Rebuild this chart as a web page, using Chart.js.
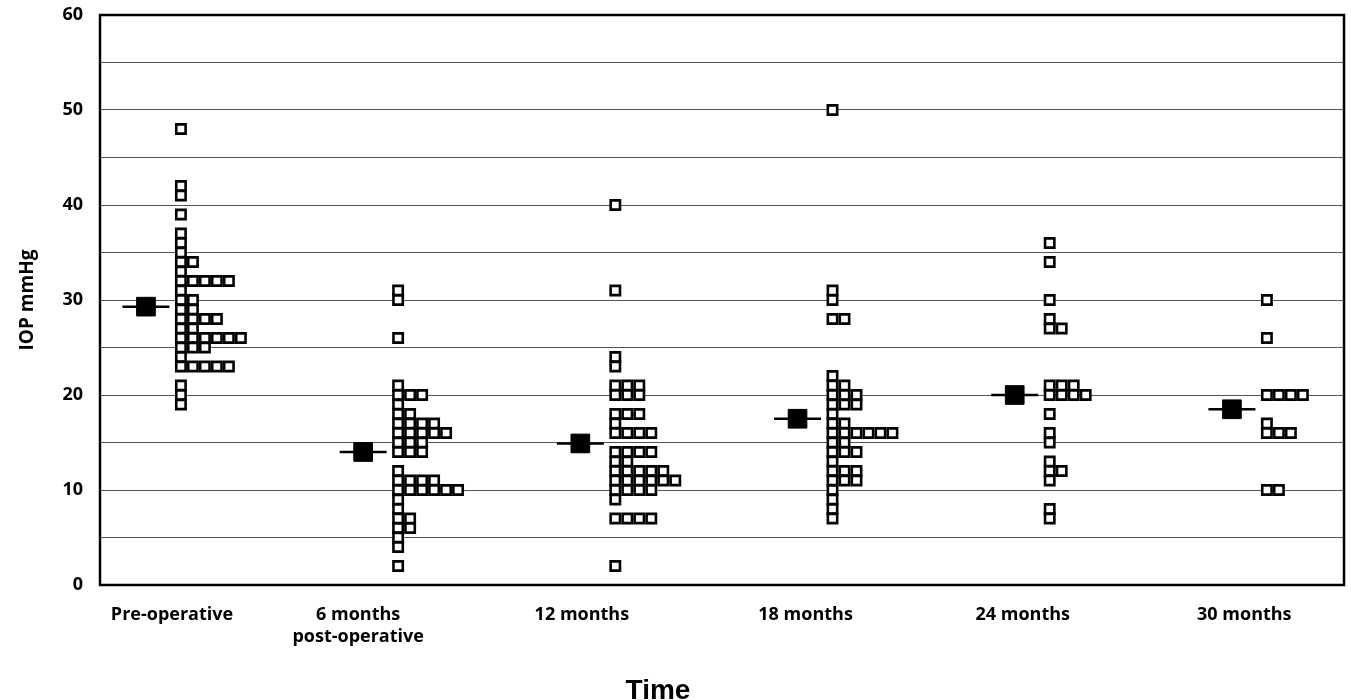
<!DOCTYPE html>
<html><head><meta charset="utf-8">
<script src="https://cdn.jsdelivr.net/npm/chart.js@4.4.1/dist/chart.umd.min.js"></script>
<style>html,body{margin:0;padding:0;background:#fff;}#wrap{width:1351px;height:700px;position:relative;}</style>
</head><body><div id="wrap"><canvas id="c" width="1351" height="700"></canvas></div>
<script>
// ---- data ----
const categories = [["Pre-operative"], ["6 months", "post-operative"], ["12 months"], ["18 months"], ["24 months"], ["30 months"]];
const yTickLabels = [0, 10, 20, 30, 40, 50, 60];
const xTitle = 'Time';
const yTitle = 'IOP mmHg';

const preOperative = [48, 42, 41, 39, 37, 36, 35, 34, 34, 33, 32, 32, 32, 32, 32, 31, 30, 30, 29, 29,
  28, 28, 28, 28, 27, 27, 26, 26, 26, 26, 26, 26, 25, 25, 25, 24, 23, 23, 23, 23, 23, 21, 20, 19];
const months6 = [31, 30, 26, 21, 20, 20, 20, 19, 18, 18, 17, 17, 17, 17, 16, 16, 16, 16, 16, 15, 15, 15,
  14, 14, 14, 12, 11, 11, 11, 11, 10, 10, 10, 10, 10, 10, 9, 8, 7, 7, 6, 6, 5, 4, 2];
const months12 = [40, 31, 24, 23, 21, 21, 21, 20, 20, 20, 18, 18, 18, 17, 16, 16, 16, 16, 14, 14, 14, 14,
  13, 13, 12, 12, 12, 12, 12, 11, 11, 11, 11, 11, 11, 10, 10, 10, 10, 9, 7, 7, 7, 7, 2];
const months18 = [50, 31, 30, 28, 28, 22, 21, 21, 20, 20, 20, 19, 19, 19, 18, 17, 17, 16, 16, 16, 16, 16, 16,
  15, 15, 14, 14, 14, 13, 12, 12, 12, 11, 11, 11, 10, 9, 8, 7];
const months24 = [36, 34, 30, 28, 27, 27, 21, 21, 21, 20, 20, 20, 20, 18, 16, 15, 13, 12, 12, 11, 8, 7];
const months30 = [30, 26, 20, 20, 20, 20, 17, 16, 16, 16, 10, 10];
const meanIOP = [29.3, 14.0, 14.9, 17.5, 20.0, 18.5];

// ---- layout constants (category units) ----
const MEAN_OFFSET = -0.037;
const COL_START = 0.124;
const COL_STEP = 0.0552;
const LABEL_SHIFT = [0.083, -0.06, -0.03, 0, 0, 0.02];

const groups = [preOperative, months6, months12, months18, months24, months30];
const readings = [];
groups.forEach((vals, i) => {
  const seen = {};
  vals.forEach(v => {
    const k = seen[v] || 0;
    seen[v] = k + 1;
    readings.push({ x: i + COL_START + k * COL_STEP, y: v });
  });
});
const means = meanIOP.map((v, i) => ({ x: i + MEAN_OFFSET, y: v }));

const tickFont = { family: "'Open Sans', 'Noto Sans', sans-serif", weight: 'bold', size: 18 };

const framePlugin = {
  id: 'frame',
  afterDatasetsDraw(chart) {
    const { ctx, chartArea: a } = chart;
    ctx.save();
    ctx.strokeStyle = '#000';
    ctx.lineWidth = 2.5;
    ctx.strokeRect(a.left, a.top, a.right - a.left, a.bottom - a.top);
    ctx.restore();
  },
  afterDraw(chart) {
    const { ctx } = chart;
    ctx.save();
    ctx.fillStyle = '#000';
    ctx.font = "bold 28px 'Liberation Sans', Arial, sans-serif";
    ctx.textAlign = 'center';
    ctx.textBaseline = 'middle';
    ctx.fillText(xTitle, 658, 691);
    ctx.restore();
  }
};

new Chart(document.getElementById('c'), {
  type: 'scatter',
  data: {
    datasets: [
      { label: 'Mean', data: means, pointStyle: 'rect', pointRadius: 13.2, pointBorderWidth: 1,
        pointBackgroundColor: '#000', pointBorderColor: '#000' },
      { label: 'Mean bar', data: means, pointStyle: 'line', pointRadius: 23.5, pointBorderWidth: 2.5,
        pointBorderColor: '#000' },
      { label: 'IOP', data: readings, pointStyle: 'rect', pointRadius: 6.6, pointBorderWidth: 2.6,
        pointBackgroundColor: '#fff', pointBorderColor: '#000' }
    ]
  },
  options: {
    responsive: false,
    animation: false,
    events: [],
    layout: { autoPadding: false, padding: { top: 15, right: 7, left: 0, bottom: 0 } },
    plugins: { legend: { display: false }, tooltip: { enabled: false } },
    scales: {
      x: {
        type: 'linear', min: -0.2486, max: 5.479,
        afterBuildTicks: s => { s.ticks = categories.map((_, i) => ({ value: i + LABEL_SHIFT[i] })); },
        afterFit: s => { s.height = 115; s.paddingLeft = 0; s.paddingRight = 0; },
        grid: { display: false, drawTicks: false },
        border: { display: false },
        ticks: { callback: v => categories[Math.round(v)], font: tickFont, color: '#000', padding: 19,
          maxRotation: 0, autoSkip: false },
        title: { display: false }
      },
      y: {
        min: 0, max: 60,
        afterFit: s => { s.width = 100; s.paddingTop = 0; s.paddingBottom = 0; },
        grid: { color: '#555', lineWidth: 1, drawTicks: false },
        border: { display: false },
        ticks: { stepSize: 5, autoSkip: false, color: '#000', font: tickFont, padding: 17,
          callback: v => (yTickLabels.includes(v) ? String(v) : '') },
        title: { display: true, text: yTitle, color: '#000', padding: { top: 16, bottom: 0 },
          font: { family: "'Open Sans', 'Noto Sans', sans-serif", weight: 'bold', size: 19 } }
      }
    }
  },
  plugins: [framePlugin]
});
</script></body></html>
